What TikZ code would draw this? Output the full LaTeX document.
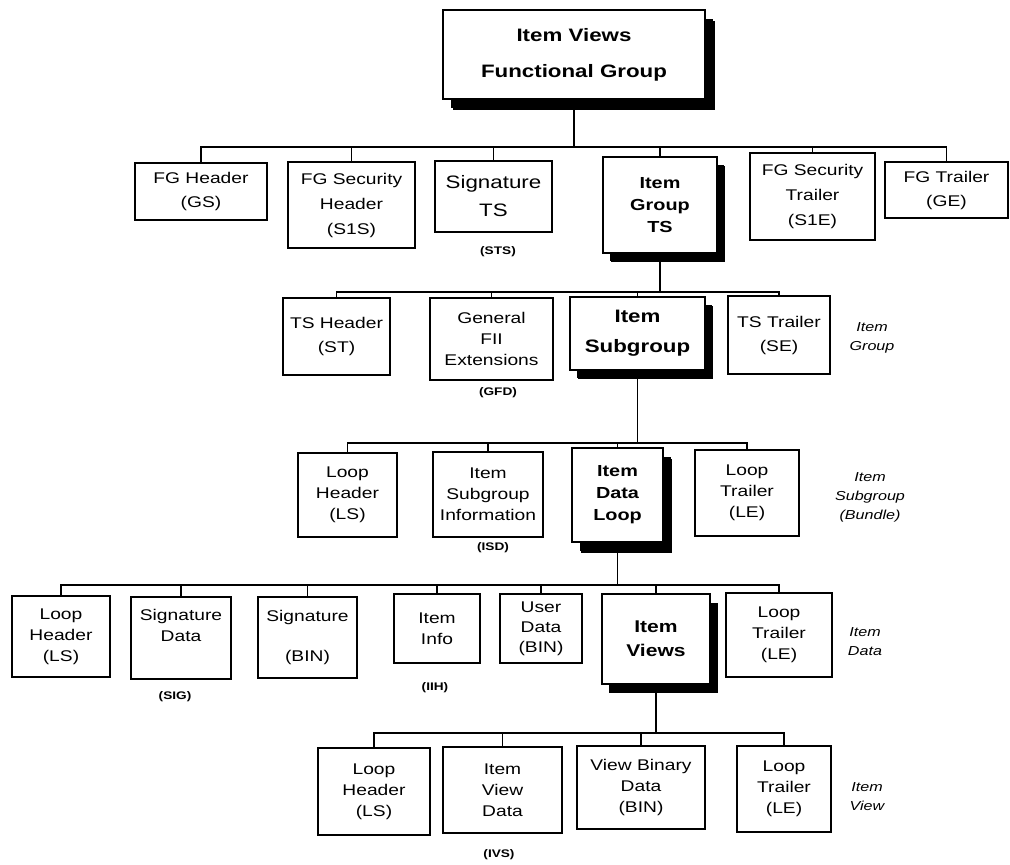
\documentclass[tikz,border=0pt]{standalone}
\usepackage{fontspec}
\setmainfont{Liberation Sans}[FakeStretch=1.24]
\usetikzlibrary{shadows}
\begin{document}
\begin{tikzpicture}[x=1pt,y=-1pt,
  box/.style={draw, line width=1.4pt, fill=white, inner sep=0pt, align=center,
    font=\fontsize{15.5}{21}\selectfont},
  keybox/.style={box, font=\bfseries\fontsize{16}{22}\selectfont,
    drop shadow={shadow xshift=8pt, shadow yshift=-9pt, fill=black, opacity=1}},
  conn/.style={line width=1.2pt},
  code/.style={font=\bfseries\fontsize{11}{13}\selectfont, inner sep=0pt},
  levlabel/.style={font=\itshape\fontsize{13}{19}\selectfont, align=center, inner sep=0pt}]
\useasboundingbox (0,0) rectangle (1010,865);

% bus lines of each level
\coordinate (bus1) at (0,147);
\coordinate (bus2) at (0,292);
\coordinate (bus3) at (0,443);
\coordinate (bus4) at (0,585);
\coordinate (bus5) at (0,733);

% root
\node[keybox, line width=2pt, minimum width=262pt, minimum height=89pt,
  font=\bfseries\fontsize{18}{36}\selectfont,
  drop shadow={shadow xshift=10pt, shadow yshift=-11pt, fill=black, opacity=1}]
  (top) at (574,54.5) {Item Views\\Functional Group};

% functional group level
\node[box, minimum width=132pt, minimum height=57pt, font=\fontsize{15.5}{24}\selectfont] (gs) at (201,191.5) {FG Header\\(GS)};
\node[box, minimum width=127pt, minimum height=86pt, font=\fontsize{15.5}{25}\selectfont] (s1s) at (351.5,205) {FG Security\\Header\\(S1S)};
\node[box, minimum width=117pt, minimum height=71pt, font=\fontsize{18}{28}\selectfont] (sts) at (493.5,196.5) {Signature\\TS};
\node[keybox, minimum width=114pt, minimum height=96pt, drop shadow={shadow xshift=7pt, shadow yshift=-8pt, fill=black, opacity=1}] (igts) at (660,205) {Item\\Group\\TS};
\node[box, minimum width=125pt, minimum height=87pt, font=\fontsize{15.5}{25}\selectfont] (s1e) at (812.5,196.5) {FG Security\\Trailer\\(S1E)};
\node[box, minimum width=123pt, minimum height=56pt, font=\fontsize{15.5}{24}\selectfont] (ge) at (946.5,190) {FG Trailer\\(GE)};
\node[code] (stsc) at (498,252) {(STS)};

\foreach \c in {gs,s1s,sts,igts,s1e,ge}
  \draw[conn] (top.south) -- (top.south |- bus1) -| (\c.north);

% item group level
\node[box, minimum width=107pt, minimum height=77pt, font=\fontsize{15.5}{24}\selectfont] (st) at (336.5,336.5) {TS Header\\(ST)};
\node[box, minimum width=123pt, minimum height=82pt] (gfd) at (491.5,339) {General\\FII\\Extensions};
\node[keybox, minimum width=135pt, minimum height=73pt, font=\bfseries\fontsize{18}{30}\selectfont,
  drop shadow={shadow xshift=7pt, shadow yshift=-8pt, fill=black, opacity=1}] (isg) at (637.5,333.5) {Item\\Subgroup};
\node[box, minimum width=102pt, minimum height=78pt, font=\fontsize{15.5}{24}\selectfont] (se) at (779,335) {TS Trailer\\(SE)};
\node[code] (gfdc) at (498,393) {(GFD)};
\node[levlabel] (lgroup) at (872,338) {Item\\Group};

\foreach \c in {st,gfd,isg,se}
  \draw[conn] (igts.south) -- (igts.south |- bus2) -| (\c.north);

% item subgroup level
\node[box, minimum width=99pt, minimum height=84pt] (ls3) at (347.5,495) {Loop\\Header\\(LS)};
\node[box, minimum width=110pt, minimum height=85pt] (isd) at (488,494.5) {Item\\Subgroup\\Information};
\node[keybox, minimum width=91pt, minimum height=94pt,
  drop shadow={shadow xshift=9pt, shadow yshift=-11pt, fill=black, opacity=1}] (idl) at (617.5,495) {Item\\Data\\Loop};
\node[box, minimum width=104pt, minimum height=86pt] (le3) at (747,493) {Loop\\Trailer\\(LE)};
\node[code] (isdc) at (493,548) {(ISD)};
\node[levlabel] (lsub) at (870,497) {Item\\Subgroup\\(Bundle)};

\foreach \c in {ls3,isd,idl,le3}
  \draw[conn] (isg.south) -- (isg.south |- bus3) -| (\c.north);

% item data level
\node[box, minimum width=98pt, minimum height=81pt] (ls4) at (61,636.5) {Loop\\Header\\(LS)};
\node[box, minimum width=100pt, minimum height=82pt] (sig) at (181,638) {Signature\\Data\\[4pt]};
\node[box, minimum width=99pt, minimum height=81pt] (bin4) at (307.5,637.5) {Signature\\[19pt](BIN)};
\node[box, minimum width=86pt, minimum height=69pt] (iih) at (437,628.5) {Item\\Info};
\node[box, minimum width=82pt, minimum height=69pt, font=\fontsize{15.5}{20}\selectfont] (ud) at (541,628.5) {User\\Data\\(BIN)};
\node[keybox, minimum width=108pt, minimum height=90pt, font=\bfseries\fontsize{17}{24}\selectfont,
  drop shadow={shadow xshift=7pt, shadow yshift=-9pt, fill=black, opacity=1}] (iv) at (656,639) {Item\\Views};
\node[box, minimum width=106pt, minimum height=84pt] (le4) at (779,635) {Loop\\Trailer\\(LE)};
\node[code] (sigc) at (175,697) {(SIG)};
\node[code] (iihc) at (435,688) {(IIH)};
\node[levlabel] (ldata) at (865,642) {Item\\Data};

\foreach \c in {ls4,sig,bin4,iih,ud,iv,le4}
  \draw[conn] (idl.south) -- (idl.south |- bus4) -| (\c.north);

% item view level
\node[box, minimum width=112pt, minimum height=87pt] (ls5) at (374,791.5) {Loop\\Header\\(LS)};
\node[box, minimum width=119pt, minimum height=86pt] (ivd) at (502.5,790) {Item\\View\\Data};
\node[box, minimum width=128pt, minimum height=83pt] (vbd) at (641,787.5) {View Binary\\Data\\(BIN)};
\node[box, minimum width=94pt, minimum height=86pt] (le5) at (784,789) {Loop\\Trailer\\(LE)};
\node[code] (ivsc) at (499,855) {(IVS)};
\node[levlabel] (lview) at (867,797) {Item\\View};

\foreach \c in {ls5,ivd,vbd,le5}
  \draw[conn] (iv.south) -- (iv.south |- bus5) -| (\c.north);
\end{tikzpicture}
\end{document}
